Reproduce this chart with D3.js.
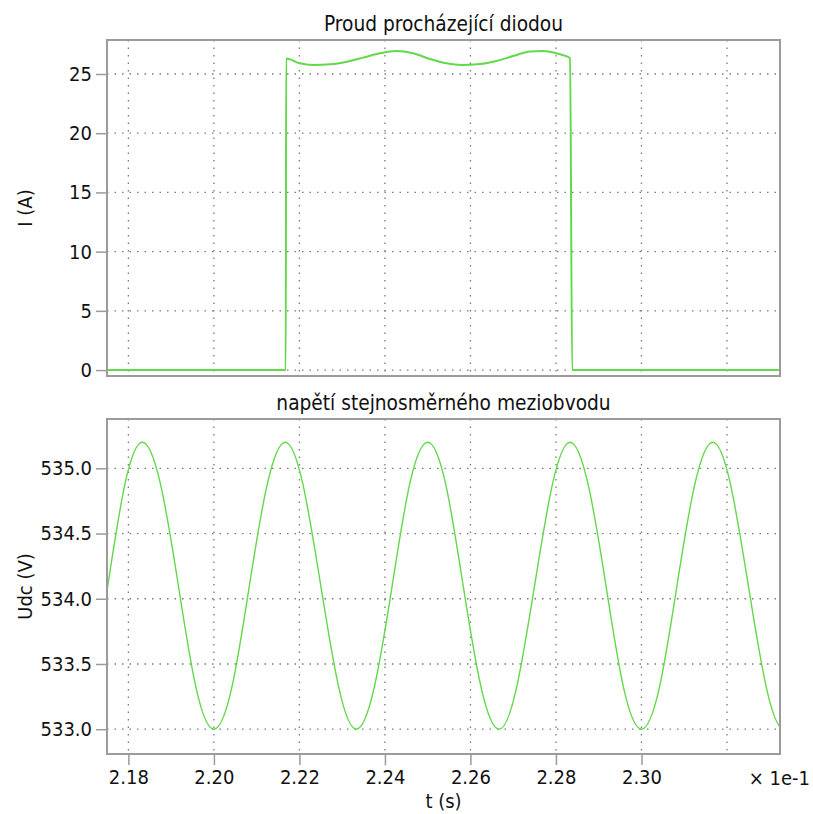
<!DOCTYPE html>
<html>
<head>
<meta charset="utf-8">
<script src="https://cdn.jsdelivr.net/npm/d3@7"></script>
<style>
  body { margin: 0; background: #fff; }
  text { font-family: "DejaVu Sans Condensed", "DejaVu Sans", sans-serif; fill: #111; }
</style>
</head>
<body>
<svg id="chart" width="813" height="814"></svg>
<script>
// Time axis (displayed in units of 1e-1 s)
const timeTicks = [2.18, 2.20, 2.22, 2.24, 2.26, 2.28, 2.30, 2.32];
const timeTickLabels = ["2.18", "2.20", "2.22", "2.24", "2.26", "2.28", "2.30", ""];
const timeDomain = [2.175, 2.3324];

// Diode current
const currentTicks = [0, 5, 10, 15, 20, 25];
const currentTime = [2.1750, 2.2168, 2.2169, 2.2201, 2.2232, 2.2272, 2.2311, 2.2349, 2.2388, 2.2427,
                     2.2466, 2.2505, 2.2544, 2.2579, 2.2622, 2.2661, 2.2700, 2.2739, 2.2770, 2.2809,
                     2.2833, 2.2838, 2.3324];
const currentAmps = [0, 0, 26.30, 25.90, 25.76, 25.82, 26.04, 26.38, 26.75, 26.94,
                     26.75, 26.27, 25.90, 25.76, 25.84, 26.10, 26.52, 26.89, 26.94, 26.66,
                     26.35, 0, 0];

// DC-link voltage (runs slightly past the right edge; clipped)
const udcTicks = [533.0, 533.5, 534.0, 534.5, 535.0];
const udcTime = [2.1750, 2.1792, 2.1833, 2.1875, 2.1917, 2.1958, 2.2000, 2.2042, 2.2083, 2.2125,
                 2.2167, 2.2208, 2.2250, 2.2292, 2.2333, 2.2375, 2.2417, 2.2458, 2.2500, 2.2542,
                 2.2583, 2.2625, 2.2667, 2.2708, 2.2750, 2.2792, 2.2833, 2.2875, 2.2917, 2.2958,
                 2.3000, 2.3042, 2.3083, 2.3125, 2.3167, 2.3208, 2.3250, 2.3292, 2.3333, 2.3375,
                 2.3417];
const udcVolts = [534.06, 534.88, 535.20, 534.88, 534.10, 533.32, 533.00, 533.32, 534.10, 534.88,
                  535.20, 534.88, 534.10, 533.32, 533.00, 533.32, 534.10, 534.88, 535.20, 534.88,
                  534.10, 533.32, 533.00, 533.32, 534.10, 534.88, 535.20, 534.88, 534.10, 533.32,
                  533.00, 533.32, 534.10, 534.88, 535.20, 534.88, 534.10, 533.32, 533.00, 533.32,
                  534.10];

const svg = d3.select("#chart");
const left = 107, right = 780;
const lineColor = "#62d94a";
const frameColor = "#9b9b9b";
const gridColor = "#7a7a7a";
const tickFont = "20px";
const titleFont = "20.7px";

const x = d3.scaleLinear().domain(timeDomain).range([left, right]);

const panels = [
  { id: "i", top: 40, bottom: 376, domain: [-0.5, 27.87], ticks: currentTicks, fmt: d3.format("d"),
    title: "Proud procházející diodou", ylabel: "I (A)", t: currentTime, v: currentAmps,
    curve: d3.curveMonotoneX, width: 2, xAxis: false },
  { id: "u", top: 419, bottom: 754, domain: [532.81, 535.378], ticks: udcTicks, fmt: d3.format(".1f"),
    title: "napětí stejnosměrného meziobvodu", ylabel: "Udc (V)", t: udcTime, v: udcVolts,
    curve: d3.curveNatural, width: 1.4, xAxis: true }
];

panels.forEach(p => {
  const y = d3.scaleLinear().domain(p.domain).range([p.bottom, p.top]);
  const g = svg.append("g");

  // clip region
  svg.append("clipPath").attr("id", "clip-" + p.id)
    .append("rect").attr("x", left).attr("y", p.top)
    .attr("width", right - left).attr("height", p.bottom - p.top);

  // dotted grid
  g.append("g").selectAll("line").data(timeTicks).join("line")
    .attr("x1", d => x(d)).attr("x2", d => x(d))
    .attr("y1", p.top).attr("y2", p.bottom)
    .attr("stroke", gridColor).attr("stroke-width", 1.3).attr("stroke-dasharray", "1.5,6");
  g.append("g").selectAll("line").data(p.ticks).join("line")
    .attr("x1", left).attr("x2", right)
    .attr("y1", d => y(d)).attr("y2", d => y(d))
    .attr("stroke", gridColor).attr("stroke-width", 1.3).attr("stroke-dasharray", "1.5,6");

  // signal
  const line = d3.line().x((d, i) => x(p.t[i])).y(d => y(d)).curve(p.curve);
  g.append("path").datum(p.v)
    .attr("clip-path", "url(#clip-" + p.id + ")")
    .attr("d", line).attr("fill", "none")
    .attr("stroke", lineColor).attr("stroke-width", p.width).attr("stroke-linejoin", "round");

  // frame
  g.append("rect").attr("x", left).attr("y", p.top)
    .attr("width", right - left).attr("height", p.bottom - p.top)
    .attr("fill", "none").attr("stroke", frameColor).attr("stroke-width", 2);

  // y axis
  const ya = g.append("g").attr("transform", `translate(${left},0)`)
    .call(d3.axisLeft(y).tickValues(p.ticks).tickFormat(p.fmt).tickSize(11).tickPadding(4));
  ya.select(".domain").remove();
  ya.selectAll(".tick line").attr("stroke", frameColor).attr("stroke-width", 1.5);
  ya.selectAll(".tick text").style("font-size", tickFont).attr("fill", "#111");
  ya.attr("font-family", null);

  // x axis (bottom panel only)
  if (p.xAxis) {
    const xa = g.append("g").attr("transform", `translate(0,${p.bottom})`)
      .call(d3.axisBottom(x).tickValues(timeTicks.slice(0, -1))
        .tickFormat((d, i) => timeTickLabels[i]).tickSize(11).tickPadding(5));
    xa.select(".domain").remove();
    xa.selectAll(".tick line").attr("stroke", frameColor).attr("stroke-width", 1.5);
    xa.selectAll(".tick text").style("font-size", tickFont).attr("fill", "#111");
    xa.attr("font-family", null);

    svg.append("text").attr("x", 810).attr("y", 785).attr("text-anchor", "end")
      .style("font-size", tickFont).text("× 1e-1");
    svg.append("text").attr("x", (left + right) / 2).attr("y", 808).attr("text-anchor", "middle")
      .style("font-size", tickFont).text("t (s)");
  }

  // panel title
  svg.append("text").attr("x", (left + right) / 2).attr("y", p.top - 9)
    .attr("text-anchor", "middle").style("font-size", titleFont).text(p.title);

  // y label
  svg.append("text")
    .attr("transform", `translate(32,${(p.top + p.bottom) / 2}) rotate(-90)`)
    .attr("text-anchor", "middle").style("font-size", tickFont).text(p.ylabel);
});
</script>
</body>
</html>
